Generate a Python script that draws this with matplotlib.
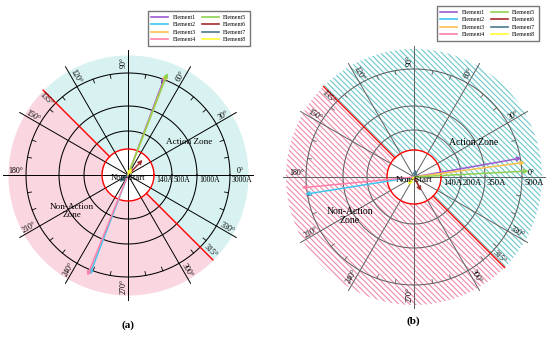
import numpy as np
import matplotlib
matplotlib.use('Agg')
import matplotlib.pyplot as plt
from matplotlib.lines import Line2D
from matplotlib import transforms

plt.rcParams['font.family'] = ['Liberation Serif', 'DejaVu Serif']
plt.rcParams['hatch.linewidth'] = 0.8

# ---------------- data ----------------
ELEMENTS = ['Element1', 'Element2', 'Element3', 'Element4',
            'Element5', 'Element6', 'Element7', 'Element8']
COLORS = ['#9b59d0', '#3ec5f0', '#ffc14d', '#ff7fa8',
          '#8fd14f', '#a52a2a', '#4a7a8c', '#ffff33']

ANGLE_TICKS = [0, 30, 60, 90, 120, 135, 150, 180, 210, 240, 270, 300, 315, 330]
ZONE_BOUNDS = [135, 315]          # action zone: -45 .. 135 deg

# panel (a)
A_RING_AMPS = [140, 500, 1000, 3000]
A_RING_LABELS = ['140A', '500A', '1000A', '3000A']
A_ANGLES = [69.5, 249.0, 69.0, 248.0, 68.8, 46.0, 218.0, 63.0]
A_MAGS = [3200, 3300, 3350, 3400, 3450, 113, 60, 43]

# panel (b)
B_RING_AMPS = [140, 200, 350, 500]
B_RING_LABELS = ['140A', '200A', '350A', '500A']
B_ANGLES = [10.0, 189.0, 7.5, 185.5, 3.0, 297.0, 75.0, 233.0]
B_MAGS = [504, 508, 516, 520, 528, 81, 40, 52]


def make_scale(ring_amps, ring_px):
    a = np.r_[0.0, ring_amps]
    p = np.r_[0.0, ring_px]
    slope = (p[-1] - p[-2]) / (a[-1] - a[-2])
    a = np.r_[a, a[-1] + 1e6]
    p = np.r_[p, p[-1] + slope * 1e6]
    fwd = lambda x: np.interp(np.asarray(x, float), a, p)
    inv = lambda y: np.interp(np.asarray(y, float), p, a)
    return fwd, inv


def draw_panel(fig, cfg, angles, mags, ring_amps, ring_labels):
    cx, cy, R = cfg['center'][0], cfg['center'][1], cfg['R']
    W, H = 550.0, 344.0
    ax = fig.add_axes([(cx - R) / W, (H - cy - R) / H, 2 * R / W, 2 * R / H],
                      projection='polar')
    fwd, inv = make_scale(ring_amps, cfg['ring_px'])
    ax.set_yscale('function', functions=(fwd, inv))
    ax.set_axis_off()
    rmax = float(inv(R))
    r_shade = float(inv(cfg['shade']))
    r_line = float(inv(cfg['line']))
    r_lab = float(inv(cfg['label']))
    r_in = ring_amps[0]

    # zones
    th_act = np.radians(np.linspace(ZONE_BOUNDS[1] - 360, ZONE_BOUNDS[0], 400))
    th_non = np.radians(np.linspace(ZONE_BOUNDS[0], ZONE_BOUNDS[1], 400))
    if cfg['hatch']:
        ax.fill_between(th_act, r_in, r_shade, facecolor='white',
                        edgecolor=cfg['act_color'], hatch=cfg['hatch'],
                        linewidth=0, zorder=1)
        ax.fill_between(th_non, r_in, r_shade, facecolor='white',
                        edgecolor=cfg['non_color'], hatch=cfg['hatch'],
                        linewidth=0, zorder=1)
    else:
        ax.fill_between(th_act, r_in, r_shade, color=cfg['act_color'],
                        linewidth=0, zorder=1)
        ax.fill_between(th_non, r_in, r_shade, color=cfg['non_color'],
                        linewidth=0, zorder=1)

    full = np.radians(np.linspace(0, 360, 721))
    gc = cfg['grid']
    # rings
    for i, ra in enumerate(ring_amps):
        col = 'red' if i == 0 else gc
        ax.plot(full, np.full_like(full, ra), color=col,
                lw=1.0 if i == 0 else 0.75, zorder=3)
    # radial lines
    for ang in range(0, 360, 30):
        th = np.radians(ang)
        ax.plot([th, th], [0, r_line], color=gc, lw=0.7, zorder=2)
    # minor ticks on outer ring
    r_t0 = float(inv(cfg['ring_px'][-1] - 4))
    for ang in range(0, 360, 10):
        if ang % 30:
            th = np.radians(ang)
            ax.plot([th, th], [r_t0, ring_amps[-1]], color=gc, lw=0.6, zorder=3)
    # zone boundaries
    for ang in ZONE_BOUNDS:
        th = np.radians(ang)
        ax.plot([th, th], [r_in, r_shade], color='red', lw=1.0, zorder=4)

    # angle labels
    for ang in ANGLE_TICKS:
        if ang <= 90:
            rot = ang
        elif ang <= 270:
            rot = ang - 180
        else:
            rot = ang - 360
        va = 'top' if ang == 135 else 'bottom'
        ax.text(np.radians(ang), r_lab, f'{ang}°', rotation=rot,
                rotation_mode='anchor', ha='center', va=va,
                fontsize=cfg['fs_ang'], zorder=6)

    # ring labels
    off = transforms.offset_copy(ax.transData, fig=fig, x=2.0, y=-1.5,
                                 units='dots')
    for ra, lab in zip(ring_amps, ring_labels):
        ax.text(0, ra, lab, transform=off, ha='left', va='top',
                fontsize=cfg['fs_ring'], zorder=6)

    # arrows
    for ang, mag, col in zip(angles, mags, COLORS):
        ax.annotate('', xy=(np.radians(ang), mag), xytext=(0, 0),
                    arrowprops=dict(arrowstyle='->', color=col, lw=1.1,
                                    mutation_scale=6, shrinkA=0, shrinkB=0),
                    zorder=5)

    # zone texts
    ax.text(cfg['act_pos'][0], cfg['act_pos'][1], 'Action Zone',
            transform=ax.transAxes, ha='center', va='center',
            fontsize=cfg['fs_zone'], zorder=6)
    ax.text(cfg['non_pos'][0], cfg['non_pos'][1], 'Non-Action\nZone',
            transform=ax.transAxes, ha='center', va='center',
            fontsize=cfg['fs_zone'], linespacing=1.0, zorder=6)
    ax.text(0.5, 0.49, 'Non-Start', transform=ax.transAxes, ha='center',
            va='center', fontsize=cfg['fs_zone'] - 0.3, zorder=6)

    ax.set_ylim(0, rmax)
    return ax


fig = plt.figure(figsize=(5.5, 3.44), dpi=100)

cfg_a = dict(center=(128, 175), R=130, ring_px=[26, 44, 69, 102],
             shade=120, line=125, label=112, hatch=None,
             act_color='#d8f1f1', non_color='#fad6e0', grid='black',
             fs_ang=5.8, fs_ring=5.5, fs_zone=6.6,
             act_pos=(0.735, 0.627), non_pos=(0.285, 0.36))
cfg_b = dict(center=(414, 177), R=136, ring_px=[27, 47, 71, 108],
             shade=128, line=131, label=117, hatch='\\' * 6,
             act_color='#6cc8cc', non_color='#f08aa8', grid='#606060',
             fs_ang=5.8, fs_ring=6.2, fs_zone=7.0,
             act_pos=(0.72, 0.626), non_pos=(0.263, 0.356))

draw_panel(fig, cfg_a, A_ANGLES, A_MAGS, A_RING_AMPS, A_RING_LABELS)
draw_panel(fig, cfg_b, B_ANGLES, B_MAGS, B_RING_AMPS, B_RING_LABELS)

handles = [Line2D([0], [0], color=c, lw=1.2) for c in COLORS]
for right, top in [(253 / 550, 1 - 8 / 344), (542 / 550, 1 - 3 / 344)]:
    fig.legend(handles, ELEMENTS, ncol=2, loc='upper right',
               bbox_to_anchor=(right, top), fontsize=4.3, frameon=True,
               fancybox=False, edgecolor='#777777', framealpha=1,
               handlelength=2.8, labelspacing=0.4, columnspacing=1.0,
               borderpad=0.6, handletextpad=0.8)

fig.text(128 / 550, 1 - 325 / 344, '(a)', ha='center', va='center',
         fontsize=8, fontweight='bold')
fig.text(413 / 550, 1 - 321 / 344, '(b)', ha='center', va='center',
         fontsize=8, fontweight='bold')

fig.savefig('out.png', dpi=100)
